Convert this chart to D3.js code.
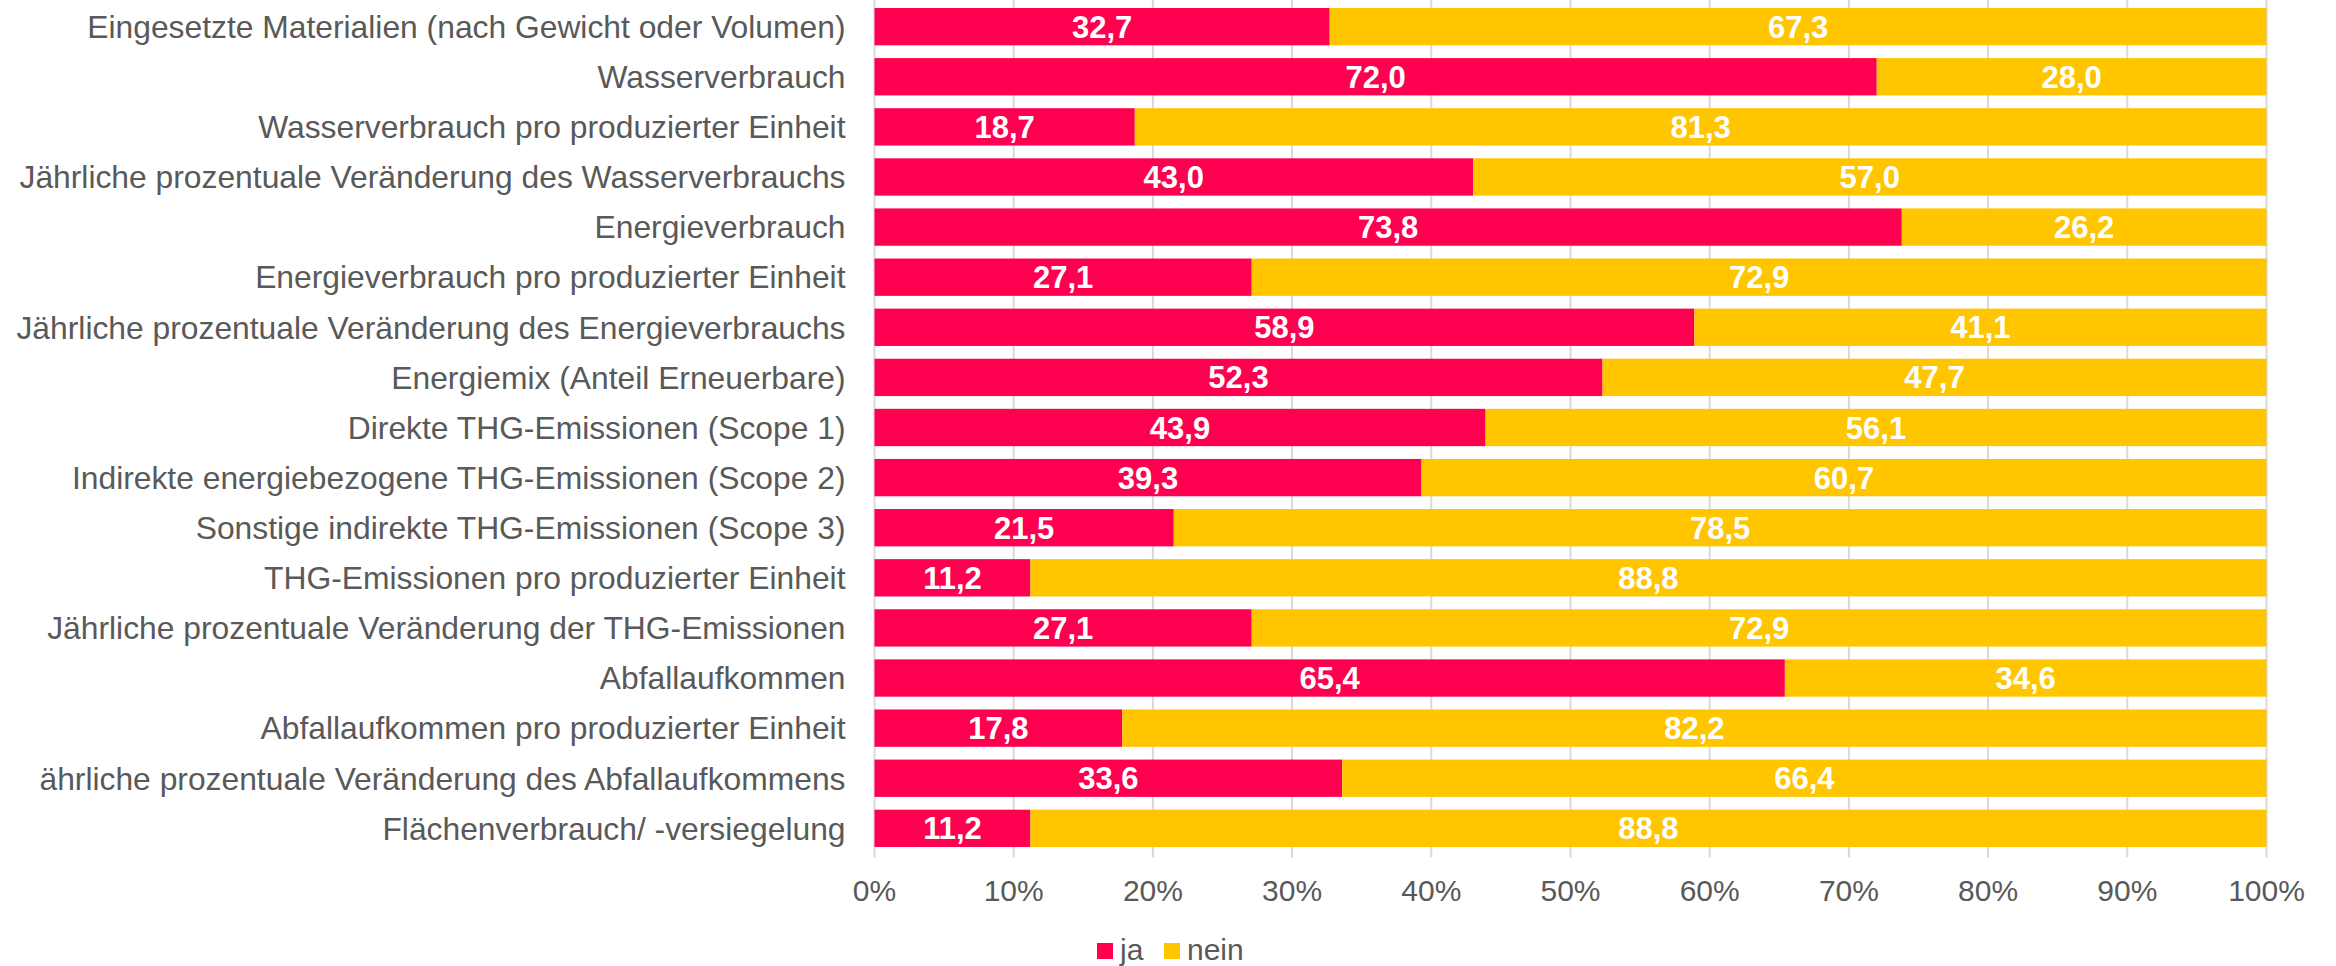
<!DOCTYPE html>
<html>
<head>
<meta charset="utf-8">
<script src="https://cdn.jsdelivr.net/npm/d3@7"></script>
<style>
  html, body { margin: 0; padding: 0; background: #ffffff; }
  svg { display: block; }
</style>
</head>
<body>
<svg id="chart" width="2336" height="966"></svg>
<script>
const categories = [
  "Eingesetzte Materialien (nach Gewicht oder Volumen)",
  "Wasserverbrauch",
  "Wasserverbrauch pro produzierter Einheit",
  "Jährliche prozentuale Veränderung des Wasserverbrauchs",
  "Energieverbrauch",
  "Energieverbrauch pro produzierter Einheit",
  "Jährliche prozentuale Veränderung des Energieverbrauchs",
  "Energiemix (Anteil Erneuerbare)",
  "Direkte THG-Emissionen (Scope 1)",
  "Indirekte energiebezogene THG-Emissionen (Scope 2)",
  "Sonstige indirekte THG-Emissionen (Scope 3)",
  "THG-Emissionen pro produzierter Einheit",
  "Jährliche prozentuale Veränderung der THG-Emissionen",
  "Abfallaufkommen",
  "Abfallaufkommen pro produzierter Einheit",
  "ährliche prozentuale Veränderung des Abfallaufkommens",
  "Flächenverbrauch/ -versiegelung"
];
const jaValues = [32.7, 72.0, 18.7, 43.0, 73.8, 27.1, 58.9, 52.3, 43.9, 39.3, 21.5, 11.2, 27.1, 65.4, 17.8, 33.6, 11.2];
const neinValues = [67.3, 28.0, 81.3, 57.0, 26.2, 72.9, 41.1, 47.7, 56.1, 60.7, 78.5, 88.8, 72.9, 34.6, 82.2, 66.4, 88.8];
const seriesNames = ["ja", "nein"];
const xTicks = [0, 10, 20, 30, 40, 50, 60, 70, 80, 90, 100];

const colors = { ja: "#FF0050", nein: "#FFC600" };
const textColor = "#595959";
const gridColor = "#D9D9D9";
const fontFamily = "Arial, 'Liberation Sans', sans-serif";

const svg = d3.select("#chart");
const plotLeft = 874.5, plotRight = 2266.5, plotTop = 1.6, plotBottom = 853.4;

const x = d3.scaleLinear().domain([0, 100]).range([plotLeft, plotRight]);
const y = d3.scaleBand().domain(categories).range([plotTop, plotBottom])
  .paddingInner(0.255).paddingOuter(0.1275);

// gridlines
svg.append("g").selectAll("line").data(xTicks).join("line")
  .attr("x1", d => x(d)).attr("x2", d => x(d))
  .attr("y1", 0).attr("y2", plotBottom + 4)
  .attr("stroke", gridColor).attr("stroke-width", 2);

// stacked data
const rows = categories.map((c, i) => ({ cat: c, ja: jaValues[i], nein: neinValues[i] }));
const stack = d3.stack().keys(seriesNames)(rows);

const fmt = v => d3.format(".1f")(v).replace(".", ",");

const layers = svg.append("g").selectAll("g").data(stack).join("g")
  .attr("fill", d => colors[d.key]);
layers.selectAll("rect").data(d => d).join("rect")
  .attr("x", d => x(d[0]))
  .attr("width", d => x(d[1]) - x(d[0]))
  .attr("y", d => y(d.data.cat))
  .attr("height", y.bandwidth());

// data labels
const lbl = svg.append("g");
stack.forEach(layer => {
  lbl.selectAll(null).data(layer).join("text")
    .attr("x", d => (x(d[0]) + x(d[1])) / 2)
    .attr("y", d => y(d.data.cat) + y.bandwidth() / 2)
    .attr("dy", "0.355em")
    .attr("text-anchor", "middle")
    .attr("fill", "#ffffff")
    .attr("font-weight", "bold")
    .attr("font-size", "31px")
    .attr("font-family", fontFamily)
    .text(d => fmt(d[1] - d[0]));
});

// category axis labels
svg.append("g").selectAll("text").data(categories).join("text")
  .attr("x", plotLeft - 29)
  .attr("y", d => y(d) + y.bandwidth() / 2)
  .attr("dy", "0.355em")
  .attr("text-anchor", "end")
  .attr("fill", textColor)
  .attr("font-size", "31.8px")
  .attr("font-family", fontFamily)
  .text(d => d);

// x axis tick labels
svg.append("g").selectAll("text").data(xTicks).join("text")
  .attr("x", d => x(d))
  .attr("y", 901)
  .attr("text-anchor", "middle")
  .attr("fill", textColor)
  .attr("font-size", "30px")
  .attr("font-family", fontFamily)
  .text(d => d + "%");

// legend
const legendItems = [
  { key: "ja", x: 1097 },
  { key: "nein", x: 1164 }
];
const lg = svg.append("g");
lg.selectAll("rect").data(legendItems).join("rect")
  .attr("x", d => d.x).attr("y", 943)
  .attr("width", 16).attr("height", 16)
  .attr("fill", d => colors[d.key]);
lg.selectAll("text").data(legendItems).join("text")
  .attr("x", d => d.x + 23).attr("y", 960)
  .attr("fill", textColor)
  .attr("font-size", "30px")
  .attr("font-family", fontFamily)
  .text(d => d.key);
</script>
</body>
</html>
